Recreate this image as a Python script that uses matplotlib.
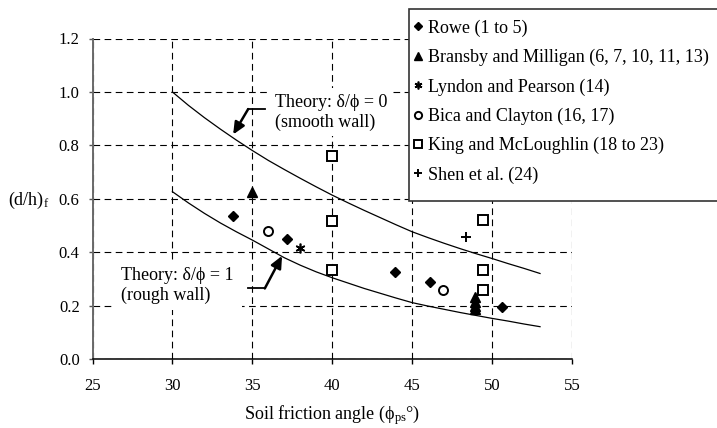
import matplotlib
matplotlib.use('Agg')
import matplotlib.pyplot as plt
from matplotlib.patches import Rectangle

plt.rcParams['font.family'] = ['Liberation Serif', 'DejaVu Serif']
plt.rcParams['font.size'] = 13
plt.rcParams['xtick.labelsize'] = 12
plt.rcParams['ytick.labelsize'] = 12
plt.rcParams['mathtext.fontset'] = 'custom'
plt.rcParams['mathtext.rm'] = 'Liberation Serif'
plt.rcParams['mathtext.it'] = 'Liberation Serif:italic'

phi_theory = [30, 31, 32, 33, 34, 35, 36, 37, 38, 39, 40, 41,
              42, 43, 44, 45, 46, 47, 48, 49, 50, 51, 52, 53]
d_smooth = [1.000, 0.950, 0.904, 0.861, 0.820, 0.781, 0.744, 0.710, 0.677, 0.645, 0.614, 0.585,
            0.557, 0.530, 0.503, 0.477, 0.455, 0.434, 0.414, 0.395, 0.377, 0.358, 0.340, 0.321]
d_rough = [0.627, 0.585, 0.546, 0.510, 0.477, 0.446, 0.413, 0.380, 0.352, 0.327, 0.305, 0.285,
           0.265, 0.247, 0.229, 0.212, 0.199, 0.187, 0.175, 0.164, 0.153, 0.143, 0.132, 0.122]

# test results
rowe_phi = [33.8, 37.2, 43.9, 46.1, 50.6]
rowe_d = [0.537, 0.449, 0.325, 0.288, 0.195]
bransby_phi = [35.0, 48.95, 48.95, 48.95, 48.95]
bransby_d = [0.625, 0.234, 0.215, 0.200, 0.190]
lyndon_phi = [38.0]
lyndon_d = [0.415]
bica_phi = [36.0, 46.95]
bica_d = [0.480, 0.260]
king_phi = [40.0, 40.0, 40.0, 49.45, 49.45, 49.45]
king_d = [0.761, 0.518, 0.334, 0.520, 0.334, 0.259]
shen_phi = [48.35]
shen_d = [0.456]

xticks = [25, 30, 35, 40, 45, 50, 55]
yticks = [0.0, 0.2, 0.4, 0.6, 0.8, 1.0, 1.2]

W, H = 717, 428
fig = plt.figure(figsize=(W / 100, H / 100), dpi=100)
ax = fig.add_axes([92.5 / W, 1 - 359.3 / H, (572 - 92.5) / W, (359.3 - 38.5) / H])

ax.set_xlim(25, 55)
ax.set_ylim(0, 1.2)
ax.set_xticks(xticks)
ax.set_yticks(yticks)
ax.set_yticklabels(['%.1f' % v for v in yticks])
ax.tick_params(axis='x', direction='out', length=3.4, width=1, pad=10)
ax.tick_params(axis='y', direction='out', length=3.2, width=1, pad=6, color='#555555')

ax.set_axisbelow(True)
ax.grid(True, ls=(0, (6, 4)), color='black', lw=0.8, zorder=0)
ax.spines['top'].set_visible(False)
ax.spines['right'].set_visible(False)
ax.spines['left'].set_color('#6a6a6a')
ax.spines['left'].set_linewidth(1.4)
ax.spines['bottom'].set_linewidth(1.1)

ax.plot(phi_theory, d_smooth, color='black', lw=0.9, zorder=2)
ax.plot(phi_theory, d_rough, color='black', lw=0.9, zorder=2)

ax.plot(rowe_phi, rowe_d, ls='none', marker='D', ms=5.2, color='black', zorder=4,
        label='Rowe (1 to 5)')
ax.plot(bransby_phi, bransby_d, ls='none', marker='^', ms=7.5, color='black', zorder=4,
        label='Bransby and Milligan (6, 7, 10, 11, 13)')
ax.plot(lyndon_phi, lyndon_d, ls='none', marker=(6, 2, 0), ms=7, mew=1.2, color='black',
        zorder=4, label='Lyndon and Pearson (14)')
ax.plot(bica_phi, bica_d, ls='none', marker='o', ms=6.5, mew=1.4, mfc='white', mec='black',
        zorder=4, label='Bica and Clayton (16, 17)')
ax.plot(king_phi, king_d, ls='none', marker='s', ms=6.5, mew=1.4, mfc='white', mec='black',
        zorder=4, label='King and McLoughlin (18 to 23)')
ax.plot(shen_phi, shen_d, ls='none', marker='+', ms=7, mew=1.4, color='black', zorder=4,
        label='Shen et al. (24)')

# labels on the theory curves
box = dict(boxstyle='square,pad=0.3', fc='white', ec='none')
ax.text(36.4, 0.924, 'Theory: δ/ϕ = 0\n(smooth wall)', ha='left', va='center',
        bbox=box, zorder=3)
ax.text(26.76, 0.275, 'Theory: δ/ϕ = 1\n(rough wall)      ', ha='left', va='center',
        bbox=box, zorder=3)

arrow = dict(arrowstyle='-|>,head_length=0.55,head_width=0.25', lw=1.8, color='black',
             shrinkA=0, shrinkB=0)
ax.plot([35.78, 34.74], [0.936, 0.936], color='black', lw=1.3, zorder=4)
ax.annotate('', xy=(33.8, 0.841), xytext=(34.74, 0.936), arrowprops=arrow, zorder=4)
ax.plot([34.74, 35.78], [0.265, 0.265], color='black', lw=1.3, zorder=4)
ax.annotate('', xy=(36.86, 0.387), xytext=(35.78, 0.265), arrowprops=arrow, zorder=4)

fig.text(8 / W, 1 - 205 / H, r'(d/h)$_\mathrm{f}$', ha='left', va='baseline')
fig.text(332.3 / W, 1 - 419 / H, r'Soil friction angle (ϕ$_\mathrm{ps}$°)',
         ha='center', va='baseline')

# legend frame runs off the right edge
fig.patches.append(Rectangle((409.3 / W, 1 - 201.5 / H), 0.5, 192.2 / H,
                             transform=fig.transFigure, fc='white', ec='#333333', lw=1.2,
                             zorder=5))
leg = fig.legend(loc='upper left', bbox_to_anchor=(413 / W, 1 - 19.5 / H), frameon=False,
                 borderpad=0, borderaxespad=0, handlelength=0.6, handletextpad=0.25,
                 labelspacing=0.67, numpoints=1, markerscale=0.8)
leg.set_zorder(6)

fig.savefig('out.png', dpi=100)
